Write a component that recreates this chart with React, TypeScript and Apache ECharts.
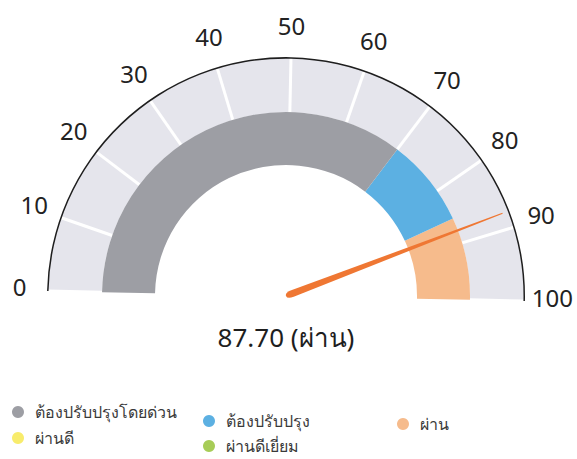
import React, { useEffect, useRef } from "react";
import * as echarts from "echarts";

// ---- data ----
const categoryNames = ["ต้องปรับปรุงโดยด่วน", "ต้องปรับปรุง", "ผ่าน", "ผ่านดี", "ผ่านดีเยี่ยม"];
const categoryColors = ["#9d9ea4", "#5cb0e2", "#f6bb8c", "#f8ec6c", "#a7cc57"];
const bandUpperBounds = [70, 85.5, 100]; // upper value of grey, blue, orange bands
const scoreValue = 87.7;
const scoreLabel = "ผ่าน";
const tickValues = [0, 10, 20, 30, 40, 50, 60, 70, 80, 90, 100];
const axisMin = 0;
const axisMax = 100;
const axisInterval = 10;

// ---- layout / style ----
const FONT = "'Noto Sans', 'Open Sans', sans-serif";
const CX = 286;
const CY = 296;
const LABEL_CY = 292;
const R_OUT = 238;
const TILT = 1.2; // the reference photo is slightly rotated clockwise (degrees)
const G_START = 180 - TILT;
const G_END = -TILT;
const L_START = 180 - TILT;
const L_END = -TILT;
const LABEL_MARGIN = -14;
const LABEL_RADIUS = 266.5; // radius of label centres
const LABEL_SIZE = 24;

// legend item centres (circle) for each category
const legendPos = [
  [18, 412],
  [209, 421],
  [403, 424],
  [18, 438],
  [209, 446],
];

function buildLabelRich() {
  const canvas = document.createElement("canvas");
  const ctx = canvas.getContext("2d")!;
  ctx.font = `${LABEL_SIZE}px ${FONT}`;
  const h = ctx.measureText("国").width || LABEL_SIZE;
  const A = R_OUT + LABEL_MARGIN;
  const span = axisMax - axisMin;
  const rich: Record<string, any> = {};
  tickValues.forEach((v) => {
    const w = ctx.measureText(String(v)).width;
    const deg = L_START - ((v - axisMin) / span) * (L_START - L_END);
    const phi = (deg * Math.PI) / 180;
    const c = Math.cos(phi);
    const s = Math.sin(phi);
    const ax = A * c;
    const ay = -A * s;
    const tx = LABEL_RADIUS * c;
    const ty = -LABEL_RADIUS * s;
    const align = Math.abs(ax) / R_OUT < 0.3 ? "center" : ax > 0 ? "left" : "right";
    const valign = Math.abs(ay) / R_OUT < 0.3 ? "middle" : ay > 0 ? "top" : "bottom";
    let pl = 0, pr = 0, pt = 0, pb = 0;
    if (align === "center") {
      const d = tx - ax;
      pl = Math.max(0, 2 * d);
      pr = Math.max(0, -2 * d);
    } else if (align === "left") {
      pl = Math.max(0, tx - ax - w / 2);
    } else {
      pr = Math.max(0, ax - w / 2 - tx);
    }
    if (valign === "middle") {
      const d = ty - ay;
      pt = Math.max(0, 2 * d);
      pb = Math.max(0, -2 * d);
    } else if (valign === "top") {
      pt = Math.max(0, ty - ay - h / 2);
    } else {
      pb = Math.max(0, ay - h / 2 - ty);
    }
    rich["t" + v] = {
      fontSize: LABEL_SIZE,
      fontFamily: FONT,
      color: "#222222",
      padding: [pt, pr, pb, pl],
    };
  });
  return rich;
}

export default function App() {
  const ref = useRef<HTMLDivElement>(null);
  useEffect(() => {
    document.body.style.margin = "0";
    if (!ref.current) return;
    const chart = echarts.init(ref.current, undefined, { renderer: "svg" });
    const span = axisMax - axisMin;
    const bandStops = bandUpperBounds.map((v, i) => [(v - axisMin) / span, categoryColors[i]]);

    const hidden = {
      axisTick: { show: false },
      splitLine: { show: false },
      axisLabel: { show: false },
      pointer: { show: false },
      anchor: { show: false },
      title: { show: false },
      detail: { show: false },
    };

    const legends = categoryNames.map((name, i) => ({
      icon: "circle",
      itemWidth: 12,
      itemHeight: 12,
      selectedMode: false,
      left: legendPos[i][0] - 6,
      top: legendPos[i][1] - 15,
      padding: 0,
      data: [name],
      textStyle: { fontFamily: FONT, fontSize: 16, color: "#3a3a3a", lineHeight: 20, padding: [10, 0, 0, 6] },
    }));

    const gaugeBase = {
      type: "gauge",
      center: [CX, CY],
      startAngle: G_START,
      endAngle: G_END,
      min: axisMin,
      max: axisMax,
    };

    chart.setOption({
      animation: false,
      backgroundColor: "#ffffff",
      polar: { center: [CX, LABEL_CY], radius: R_OUT },
      angleAxis: {
        type: "value",
        min: axisMin,
        max: axisMax,
        interval: axisInterval,
        startAngle: L_START,
        endAngle: L_END,
        clockwise: true,
        axisLine: { show: false },
        axisTick: { show: false },
        splitLine: { show: false },
        axisLabel: {
          show: true,
          margin: LABEL_MARGIN,
          fontSize: LABEL_SIZE,
          color: "#222",
          fontFamily: FONT,
          formatter: (v: number) => `{t${v}|${v}}`,
          rich: buildLabelRich(),
        },
      },
      radiusAxis: { show: false, min: 0, max: 1 },
      legend: legends,
      series: [
        {
          ...gaugeBase,
          radius: R_OUT,
          splitNumber: span / axisInterval,
          ...hidden,
          axisLine: { lineStyle: { width: 54, color: [[1, "#e5e5ec"]] } },
          splitLine: { show: true, distance: -54, length: 54, lineStyle: { color: "#ffffff", width: 3 } },
          data: [],
        },
        {
          ...gaugeBase,
          radius: R_OUT + 1,
          ...hidden,
          axisLine: { lineStyle: { width: 1.5, color: [[1, "#1e1e1e"]] } },
          data: [],
        },
        {
          ...gaugeBase,
          radius: 184,
          ...hidden,
          axisLine: { lineStyle: { width: 53, color: bandStops } },
          pointer: {
            show: true,
            icon: "path://M2.6,0 L3.4,0 L6,97 Q6,100 3,100 Q0,100 0,97 Z",
            length: "126%",
            width: 7,
            itemStyle: { color: "#ef7733" },
          },
          detail: {
            show: true,
            offsetCenter: [0, 41],
            fontSize: 26,
            fontWeight: "normal",
            fontFamily: FONT,
            color: "#1e1e1e",
            formatter: (v: number) => `${v.toFixed(2)} (${scoreLabel})`,
          },
          data: [{ value: scoreValue, name: scoreLabel }],
        },
        {
          type: "pie",
          name: "legend",
          center: [-200, -200],
          radius: 1,
          stillShowZeroSum: false,
          silent: true,
          label: { show: false },
          labelLine: { show: false },
          data: categoryNames.map((n, i) => ({ name: n, value: 0, itemStyle: { color: categoryColors[i] } })),
        },
      ],
    });
    return () => chart.dispose();
  }, []);
  return <div ref={ref} style={{ width: 577, height: 459 }} />;
}
